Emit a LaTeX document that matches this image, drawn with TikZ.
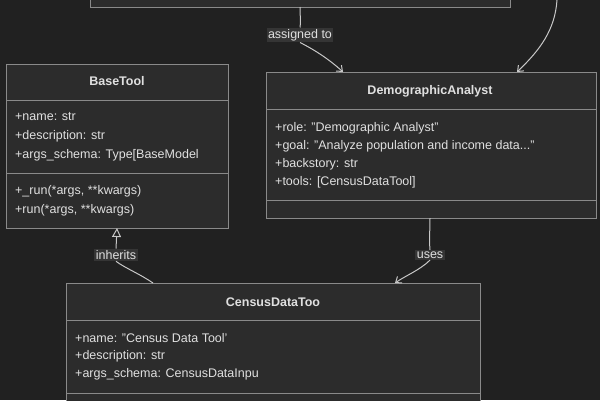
\documentclass[tikz,border=0pt]{standalone}
\usepackage{fontspec}
\setmainfont{Liberation Sans}
\usetikzlibrary{arrows.meta}
\definecolor{bg}{HTML}{212121}
\definecolor{boxfill}{HTML}{2C2C2C}
\definecolor{boxline}{HTML}{8A8A8A}
\definecolor{txt}{HTML}{E0E0E0}
\definecolor{lblbg}{HTML}{353535}
\definecolor{edge}{HTML}{C8C8C8}
\tikzset{
  cls/.style={draw=boxline,fill=boxfill,line width=1pt},
  sep/.style={draw=boxline,line width=1pt},
  ttl/.style={text=txt,font=\bfseries\fontsize{12.5}{14}\selectfont,inner sep=0pt},
  attr/.style={text=txt,font=\fontsize{12.5}{14}\selectfont,anchor=west,inner sep=0pt},
  lbl/.style={text=txt,fill=lblbg,font=\fontsize{12.5}{14}\selectfont,inner sep=1.5pt},
  conn/.style={draw=edge,line width=1pt},
  arr/.style={-{Straight Barb[length=5pt,width=8pt]}},
  inh/.style={{Triangle[open,length=9pt,width=9pt]}-}
}
\begin{document}
\begin{tikzpicture}[x=1pt,y=-1pt]
\fill[bg] (0,0) rectangle (600,400);
\useasboundingbox (0,0) rectangle (600,400);
% top box
\draw[cls] (90,-10) rectangle (510,7);
\coordinate (top) at (300,7);
\coordinate (topr) at (557,0);
% BaseTool
\draw[cls] (6,64) rectangle (228,228);
\draw[sep] (6,100) -- (228,100);
\draw[sep] (6,173) -- (228,173);
\node[ttl] (bt) at (117,81) {BaseTool};
\node[attr] (bt1) at (15,117) {+name: str};
\node[attr] (bt2) at (15,136) {+description: str};
\node[attr] (bt3) at (15,155) {+args\_schema: Type[BaseModel};
\node[attr] (bt4) at (15,191) {+\_run(*args, **kwargs)};
\node[attr] (bt5) at (15,210) {+run(*args, **kwargs)};
\coordinate (btb) at (117,228);
% DemographicAnalyst
\draw[cls] (266,72) rectangle (596,218);
\draw[sep] (266,109) -- (596,109);
\draw[sep] (266,200) -- (596,200);
\node[ttl] (da) at (430,91) {DemographicAnalyst};
\node[attr] (da1) at (275,128) {+role: "Demographic Analyst"};
\node[attr] (da2) at (275,146) {+goal: "Analyze population and income data..."};
\node[attr] (da3) at (275,164) {+backstory: str};
\node[attr] (da4) at (275,182) {+tools: [CensusDataTool]};
\coordinate (dat) at (343,72);
\coordinate (datr) at (517,72);
\coordinate (dab) at (430,218);
% CensusDataTool
\draw[cls] (66,283) rectangle (480,410);
\draw[sep] (66,320) -- (480,320);
\draw[sep] (66,393) -- (480,393);
\node[ttl] (cd) at (273,302) {CensusDataToo};
\node[attr] (cd1) at (75,338) {+name: "Census Data Tool'};
\node[attr] (cd2) at (75,356) {+description: str};
\node[attr] (cd3) at (75,374) {+args\_schema: CensusDataInpu};
\coordinate (cdt) at (153,283);
\coordinate (cdtr) at (395,283);
% edges
\node[lbl] (l1) at (300,35) {assigned to};
\draw[conn] (top) .. controls (300,16) and (301,22) .. (l1.north);
\draw[conn,arr] (l1.south) .. controls (315,50) and (330,60) .. (dat);
\draw[conn,arr] (topr) .. controls (555,30) and (540,50) .. (datr);
\node[lbl] (l2) at (116,255) {inherits};
\draw[conn,inh] (btb) -- (l2.north);
\draw[conn] (l2.south) .. controls (125,268) and (140,274) .. (cdt);
\node[lbl] (l3) at (430,255) {uses};
\draw[conn] (dab) .. controls (430,232) and (429,238) .. (l3.north);
\draw[conn,arr] (l3.south) .. controls (420,270) and (405,276) .. (cdtr);
\end{tikzpicture}
\end{document}
